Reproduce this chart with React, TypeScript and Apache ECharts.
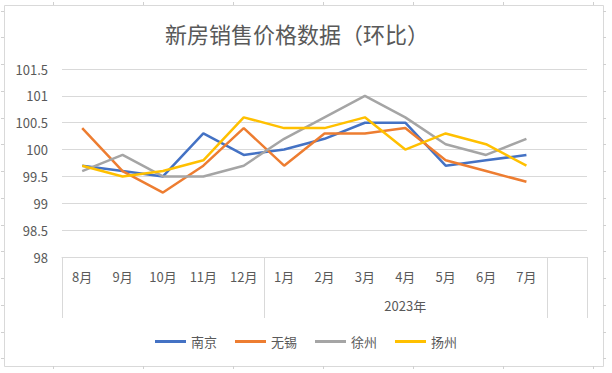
import React, { useEffect, useRef } from "react";
import * as echarts from "echarts";

const titleText = "新房销售价格数据（环比）";
const categories = ["8月", "9月", "10月", "11月", "12月", "1月", "2月", "3月", "4月", "5月", "6月", "7月", ""];
const groupLabel = "2023年";
const seriesNames = ["南京", "无锡", "徐州", "扬州"];
const nanjing = [99.7, 99.6, 99.5, 100.3, 99.9, 100.0, 100.2, 100.5, 100.5, 99.7, 99.8, 99.9, null];
const wuxi = [100.4, 99.6, 99.2, 99.7, 100.4, 99.7, 100.3, 100.3, 100.4, 99.8, 99.6, 99.4, null];
const xuzhou = [99.6, 99.9, 99.5, 99.5, 99.7, 100.2, 100.6, 101.0, 100.6, 100.1, 99.9, 100.2, null];
const yangzhou = [99.7, 99.5, 99.6, 99.8, 100.6, 100.4, 100.4, 100.6, 100.0, 100.3, 100.1, 99.7, null];
const yMin = 98;
const yMax = 101.5;
const yStep = 0.5;

const colors = ["#4472C4", "#ED7D31", "#A5A5A5", "#FFC000"];
const FONT = "'Noto Sans CJK SC', 'Noto Sans', sans-serif";

export default function App() {
  const ref = useRef<HTMLDivElement>(null);
  useEffect(() => {
    if (!ref.current) return;
    const chart = echarts.init(ref.current, undefined, { renderer: "svg" });
    const data = [nanjing, wuxi, xuzhou, yangzhou];
    chart.setOption({
      animation: false,
      backgroundColor: "#ffffff",
      textStyle: { fontFamily: FONT },
      grid: { left: 62, right: 25, top: 69, bottom: 116 },
      legend: {
        data: seriesNames,
        left: "center",
        top: 330,
        icon: "rect",
        itemWidth: 31,
        itemHeight: 3,
        itemGap: 18,
        textStyle: { color: "#595959", fontSize: 13, fontFamily: FONT },
      },
      xAxis: {
        type: "category",
        data: categories,
        boundaryGap: true,
        axisLine: { show: true, lineStyle: { color: "#d9d9d9", width: 1 } },
        axisTick: { show: false },
        axisLabel: { color: "#595959", fontSize: 13, margin: 13, interval: 0, fontFamily: FONT },
        splitLine: { show: false },
      },
      yAxis: {
        type: "value",
        min: yMin,
        max: yMax,
        interval: yStep,
        axisLine: { show: false },
        axisTick: { show: false },
        axisLabel: { color: "#595959", fontSize: 13, margin: 14, fontFamily: FONT },
        splitLine: { lineStyle: { color: "#d9d9d9", width: 1 } },
      },
      series: seriesNames.map((n, i) => ({
        name: n,
        type: "line",
        data: data[i],
        symbol: "none",
        showSymbol: false,
        itemStyle: { color: colors[i] },
        lineStyle: { color: colors[i], width: 2.5 },
      })),
    });

    const c0 = chart.convertToPixel({ xAxisIndex: 0 }, 0) as number;
    const c1 = chart.convertToPixel({ xAxisIndex: 0 }, 1) as number;
    const bw = c1 - c0;
    const b = (k: number) => c0 - bw / 2 + k * bw;
    const yBase = chart.convertToPixel({ yAxisIndex: 0 }, yMin) as number;
    const yEnd = yBase + 61;
    const lineStyle = { stroke: "#d9d9d9", lineWidth: 1 };
    const dividers = [0, 5, 12, 13].map((k) => ({
      type: "line",
      shape: { x1: Math.round(b(k)) + 0.5, y1: yBase, x2: Math.round(b(k)) + 0.5, y2: yEnd },
      style: lineStyle,
      silent: true,
    }));

    const ticks: any[] = [];
    const frameStyle = { stroke: "#d0d0d0", lineWidth: 1 };
    for (let x = 53; x <= 600; x += 90) {
      ticks.push({ type: "line", shape: { x1: x + 0.5, y1: 2, x2: x + 0.5, y2: 5 }, style: frameStyle });
      ticks.push({ type: "line", shape: { x1: x + 0.5, y1: 366, x2: x + 0.5, y2: 369 }, style: frameStyle });
    }
    for (let y = 10.5; y <= 362; y += 26.75) {
      const yy = Math.round(y) + 0.5;
      ticks.push({ type: "line", shape: { x1: 1, y1: yy, x2: 4, y2: yy }, style: frameStyle });
      ticks.push({ type: "line", shape: { x1: 603, y1: yy, x2: 606, y2: yy }, style: frameStyle });
    }

    chart.setOption({
      graphic: [
        {
          type: "rect",
          shape: { x: 4.5, y: 5.5, width: 599, height: 361 },
          style: { fill: "none", stroke: "#d9d9d9", lineWidth: 1 },
          silent: true,
        },
        ...ticks,
        ...dividers,
        {
          type: "text",
          x: (b(5) + b(12)) / 2,
          y: 305,
          style: {
            text: groupLabel,
            fill: "#595959",
            fontSize: 13,
            fontFamily: FONT,
            align: "center",
            verticalAlign: "middle",
          },
        },
        {
          type: "text",
          x: 297,
          y: 33,
          style: {
            text: titleText,
            fill: "#595959",
            fontSize: 22,
            fontFamily: FONT,
            align: "center",
            verticalAlign: "middle",
          },
        },
      ],
    });

    return () => chart.dispose();
  }, []);
  return <div ref={ref} style={{ width: 612, height: 373, position: "absolute", left: 0, top: 0 }} />;
}
